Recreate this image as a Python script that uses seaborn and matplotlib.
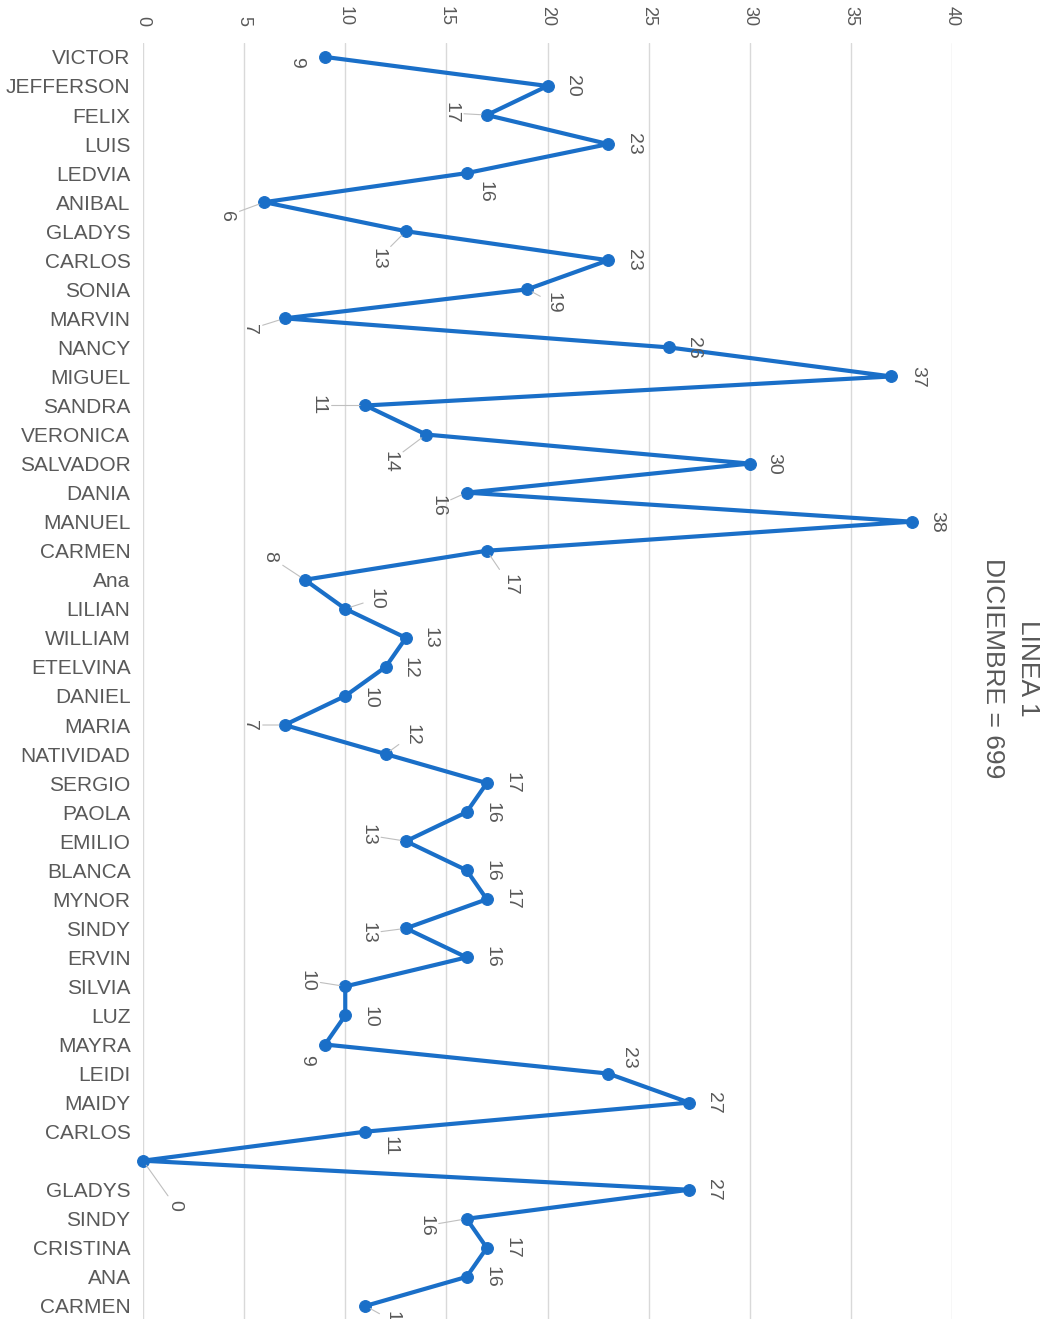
import matplotlib
matplotlib.use("Agg")
import matplotlib.pyplot as plt
import seaborn as sns
import numpy as np

# Names (top to bottom) and monthly counts
names = ["VICTOR", "JEFFERSON", "FELIX", "LUIS", "LEDVIA", "ANIBAL", "GLADYS",
         "CARLOS", "SONIA", "MARVIN", "NANCY", "MIGUEL", "SANDRA", "VERONICA",
         "SALVADOR", "DANIA", "MANUEL", "CARMEN", "Ana", "LILIAN", "WILLIAM",
         "ETELVINA", "DANIEL", "MARIA", "NATIVIDAD", "SERGIO", "PAOLA", "EMILIO",
         "BLANCA", "MYNOR", "SINDY", "ERVIN", "SILVIA", "LUZ", "MAYRA", "LEIDI",
         "MAIDY", "CARLOS", "", "GLADYS", "SINDY", "CRISTINA", "ANA", "CARMEN"]
values = [9, 20, 17, 23, 16, 6, 13, 23, 19, 7, 26, 37, 11, 14, 30, 16, 38, 17, 8,
          10, 13, 12, 10, 7, 12, 17, 16, 13, 16, 17, 13, 16, 10, 10, 9, 23, 27,
          11, 0, 27, 16, 17, 16, 11]
x_ticks = [0, 5, 10, 15, 20, 25, 30, 35, 40]
title_lines = ["LINEA 1", "DICIEMBRE = 699"]

# Data-label placement (pixel offsets from each marker)
label_offsets = [(-28, 5), (25, 0), (-36, -2), (25, 0), (18, 19), (-38, 14),
                 (-28, 28), (25, 0), (26, 14), (-35, 11), (25, 0), (26, 0),
                 (-47, 0), (-36, 27), (24, 0), (-29, 13), (25, 0), (23, 34),
                 (-35, -23), (31, -10), (24, 0), (24, 1), (25, 2), (-35, 0),
                 (26, -19), (25, 0), (25, 1), (-38, -6), (25, 1), (25, 0),
                 (-38, 5), (25, 0), (-38, -6), (25, 1), (-18, 16), (20, -16),
                 (24, 0), (25, 14), (32, 45), (24, 0), (-41, 7), (25, 0),
                 (25, 0), (27, 15)]

LINE = "#1A6FC8"
TEXT = "#595959"
GRID = "#D9D9D9"

sns.set_theme(style="white")
plt.rcParams["font.family"] = ["Liberation Sans", "DejaVu Sans"]

fig = plt.figure(figsize=(10.45, 13.19), dpi=100)
ax = fig.add_axes([143 / 1045, 0.0, (952 - 143) / 1045, 1 - 43 / 1319])

pos = np.arange(len(names))
sns.lineplot(x=values, y=pos, sort=False, estimator=None, ax=ax,
             color=LINE, lw=3, marker="o", markersize=8.5,
             markeredgecolor=LINE, clip_on=False, zorder=3)

ax.set_xlim(0, 40)
ax.set_ylim(43.45, -0.48)
ax.set_xticks(x_ticks)
ax.xaxis.tick_top()
ax.tick_params(axis="x", labelrotation=-90, labelsize=13, colors=TEXT,
               length=0, pad=12)
ax.set_yticks(pos)
ax.set_yticklabels(names)
ax.tick_params(axis="y", labelsize=15, colors=TEXT, length=0, pad=9)
ax.grid(axis="x", color=GRID, lw=1)
ax.grid(axis="y", visible=False)
for s in ax.spines.values():
    s.set_visible(False)

for i, (v, (dx, dy)) in enumerate(zip(values, label_offsets)):
    far = (dx * dx + dy * dy) ** 0.5 > 29
    ax.annotate(str(v), xy=(v, i), xytext=(dx, -dy), textcoords="offset pixels",
                rotation=-90, ha="center", va="center", fontsize=14,
                color=TEXT, annotation_clip=False, zorder=4,
                arrowprops=dict(arrowstyle="-", color="#BFBFBF", lw=0.8,
                                shrinkA=1, shrinkB=4) if far else None)

fig.text(1028 / 1045, 1 - 668 / 1319, title_lines[0], rotation=-90,
         ha="center", va="center", fontsize=19, color=TEXT)
fig.text(993 / 1045, 1 - 668 / 1319, title_lines[1], rotation=-90,
         ha="center", va="center", fontsize=19, color=TEXT)

fig.savefig("out.png", dpi=100, facecolor="white")
